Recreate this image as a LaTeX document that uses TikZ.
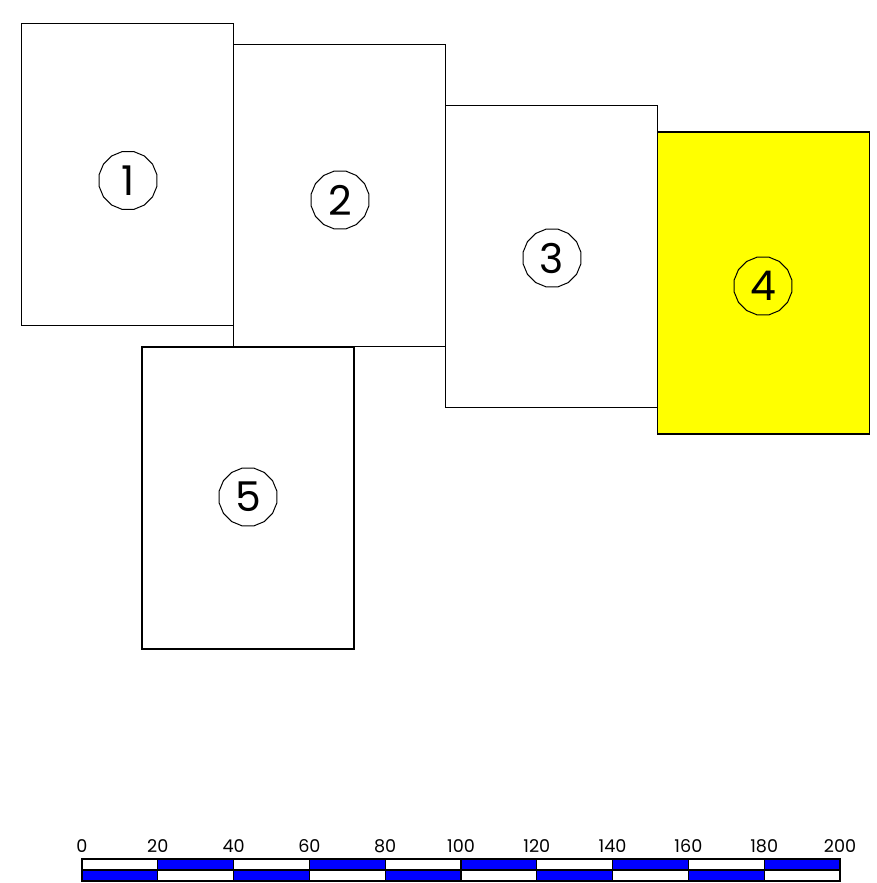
\documentclass[tikz,border=0pt]{standalone}
\usepackage{fontspec}
\setmainfont{Poppins}
\usetikzlibrary{shapes.geometric}
\definecolor{sheetyellow}{RGB}{255,255,0}
\definecolor{barblue}{RGB}{0,0,255}
\tikzset{
  sheet/.style = {draw = black, line width = 0.6pt, inner sep = 0pt, minimum width = 106pt, minimum height = 151pt},
  sheetno/.style = {draw = black, line width = 0.5pt, regular polygon, regular polygon sides = 16, inner sep = 0pt, minimum size = 29.5pt, font = \fontsize{20.5}{20.5}\selectfont},
  barlabel/.style = {inner sep = 0pt, anchor = base, font = \fontsize{8.8}{8.8}\selectfont}
}
\begin{document}
\begin{tikzpicture}[x = 0.5pt, y = -0.5pt]
\useasboundingbox (0,0) rectangle (877,883);
\pgfmathsetmacro\seg{75.8};
\node[sheet] (r1) at (127.75,174.5) {};
\node[sheet] (r2) at (339.5,195.5) {};
\node[sheet] (r3) at (551.25,256.25) {};
\node[sheet, fill = sheetyellow] (r4) at (763.25,283) {};
\node[sheet] (r5) at (248,498) {};
\node[sheetno] (c1) at (128,180.5) {1};
\node[sheetno] (c2) at (340,200) {2};
\node[sheetno] (c3) at (552,258) {3};
\node[sheetno] (c4) at (763,286) {4};
\node[sheetno] (c5) at (248,497) {5};
\foreach \i in {0,...,9} {
  \pgfmathsetmacro\x{82+\seg*\i};
  \ifodd\i
    \draw [fill = barblue, draw = black, line width = 0.6pt] (\x,859) rectangle (\x+\seg,870);
    \draw [fill = white, draw = black, line width = 0.6pt] (\x,870) rectangle (\x+\seg,881);
  \else
    \draw [fill = white, draw = black, line width = 0.6pt] (\x,859) rectangle (\x+\seg,870);
    \draw [fill = barblue, draw = black, line width = 0.6pt] (\x,870) rectangle (\x+\seg,881);
  \fi
}
\foreach \v in {0,20,...,200} \node[barlabel] (l\v) at (82+\seg*\v/20,852) {\v};
\end{tikzpicture}
\end{document}
